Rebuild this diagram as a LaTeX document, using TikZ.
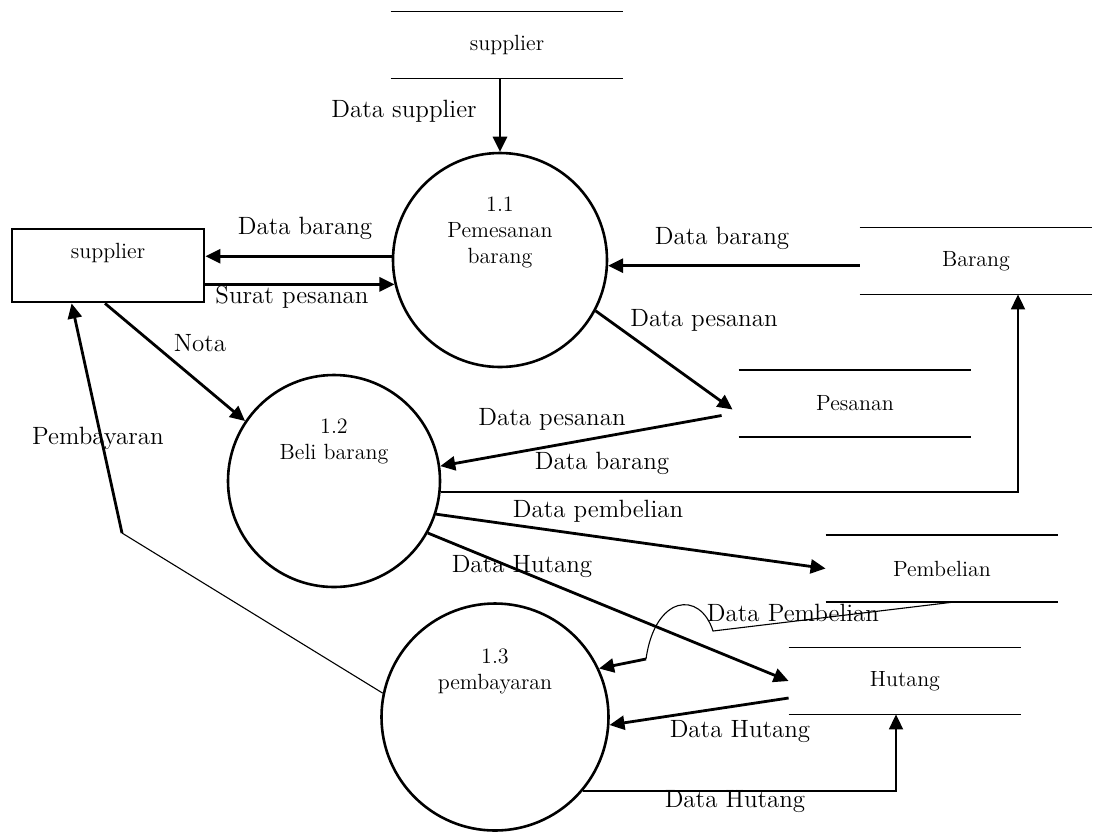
\documentclass[tikz,border=0pt]{standalone}
\usepackage{tikz}
\usetikzlibrary{arrows.meta,positioning}
\newcommand\lblfont{\fontsize{12.5}{15}\selectfont}
\newcommand\txtfont{\fontsize{11}{13}\selectfont}
\tikzset{
	flow/.style={line width=1.4pt,-{Triangle[length=7.5pt,width=7pt]}},
	medflow/.style={line width=0.9pt,-{Triangle[length=7.5pt,width=7pt]}},
	thinline/.style={line width=0.55pt},
	proc/.style={circle,draw,line width=1.3pt,minimum size=#1,inner sep=0pt},
	ent/.style={rectangle,draw,line width=1.4pt,minimum width=96pt,minimum height=36.5pt,inner sep=0pt},
	store/.style={minimum width=116pt,minimum height=33pt,inner sep=0pt,font=\txtfont},
	storeline/.style={line width=0.7pt},
	ptext/.style={font=\txtfont,align=center,inner sep=0pt},
	lbl/.style={font=\lblfont,inner sep=0pt}
}
\begin{document}
\begin{tikzpicture}[x=0.5pt,y=-0.5pt]
		\useasboundingbox (0,0) rectangle (1093,832);
		% processes
		\node[proc=107pt] (p11) at (500,260) {};
		\node[proc=106pt] (p12) at (334,481) {};
		\node[proc=113.5pt] (p13) at (495,717) {};
		\node[ptext] (t11) at ([yshift=14pt]p11.center) {1.1\\Pemesanan\\barang};
		\node[ptext] (t12) at ([yshift=20pt]p12.center) {1.2\\Beli barang};
		\node[ptext] (t13) at ([yshift=23pt]p13.center) {1.3\\pembayaran};
		% external entity
		\node[ent] (supp) at (108,265.5) {};
		\node[ptext] (tsupp) at ([yshift=6.5pt]supp.center) {supplier};
		% data stores
		\node[store] (dsup) at (507,45) {supplier};
		\node[store] (barang) at (976,261) {Barang};
		\node[store] (pesanan) at (855,403.5) {Pesanan};
		\node[store] (pembelian) at (942,568.5) {Pembelian};
		\node[store] (hutang) at (905,681) {Hutang};
		\foreach \s in {dsup,barang,pesanan,pembelian,hutang}
			\draw[storeline] (\s.north west) -- (\s.north east) (\s.south west) -- (\s.south east);
		\coordinate (bend) at (122,533);
		\coordinate (hopA) at (713,631);
		\coordinate (hopB) at (646,659);
		% flows
		\draw[flow] (dsup.south -| p11.north) -- (p11.north);
		\draw[flow] (p11.178) -- (supp.east |- p11.178);
		\draw[flow] (supp.east |- p11.193.5) -- (p11.193.5);
		\draw[flow] ([xshift=-1.5pt]supp.south) -- (p12.146);
		\draw[thinline] (p13.168) -- (bend);
		\draw[flow] (bend) -- ([xshift=30.5pt]supp.south west);
		\draw[flow] (barang.west |- p11.-3.7) -- (p11.-3.7);
		\draw[flow] (p11.-28) -- ([xshift=-3pt,yshift=-3pt]pesanan.west);
		\draw[flow] ([xshift=-8.5pt,yshift=-6pt]pesanan.west) -- (p12.8.7);
		\draw[medflow] (p12.-6.5) -| ([xshift=21pt]barang.south);
		\draw[flow] (p12.-18) -- (pembelian.west);
		\draw[flow] (p12.-29) -- (hutang.west);
		\draw[thinline] ([xshift=6.5pt]pembelian.south) -- (hopA) .. controls (700,590) and (655,595) .. (hopB);
		\draw[flow] (hopB) -- (p13.25);
		\draw[flow] ([yshift=-8.5pt]hutang.west) -- (p13.-4);
		\draw[medflow] (p13.-40.7) -| ([xshift=-4.5pt]hutang.south);
		% labels
		\node[lbl] (l1) at (404,111) {Data supplier};
		\node[lbl] (l2) at (305,228) {Data barang};
		\node[lbl] (l3) at (292,297) {Surat pesanan};
		\node[lbl] (l4) at (200,343) {Nota};
		\node[lbl] (l5) at (98,438) {Pembayaran};
		\node[lbl] (l6) at (722,238) {Data barang};
		\node[lbl] (l7) at (704,320) {Data pesanan};
		\node[lbl] (l8) at (552,419) {Data pesanan};
		\node[lbl] (l9) at (602,463) {Data barang};
		\node[lbl] (l10) at (598,511) {Data pembelian};
		\node[lbl] (l11) at (522,567) {Data Hutang};
		\node[lbl] (l12) at (793,613) {Data Pembelian};
		\node[lbl] (l13) at (740,732) {Data Hutang};
		\node[lbl] (l14) at (735,802) {Data Hutang};
	\end{tikzpicture}
\end{document}
